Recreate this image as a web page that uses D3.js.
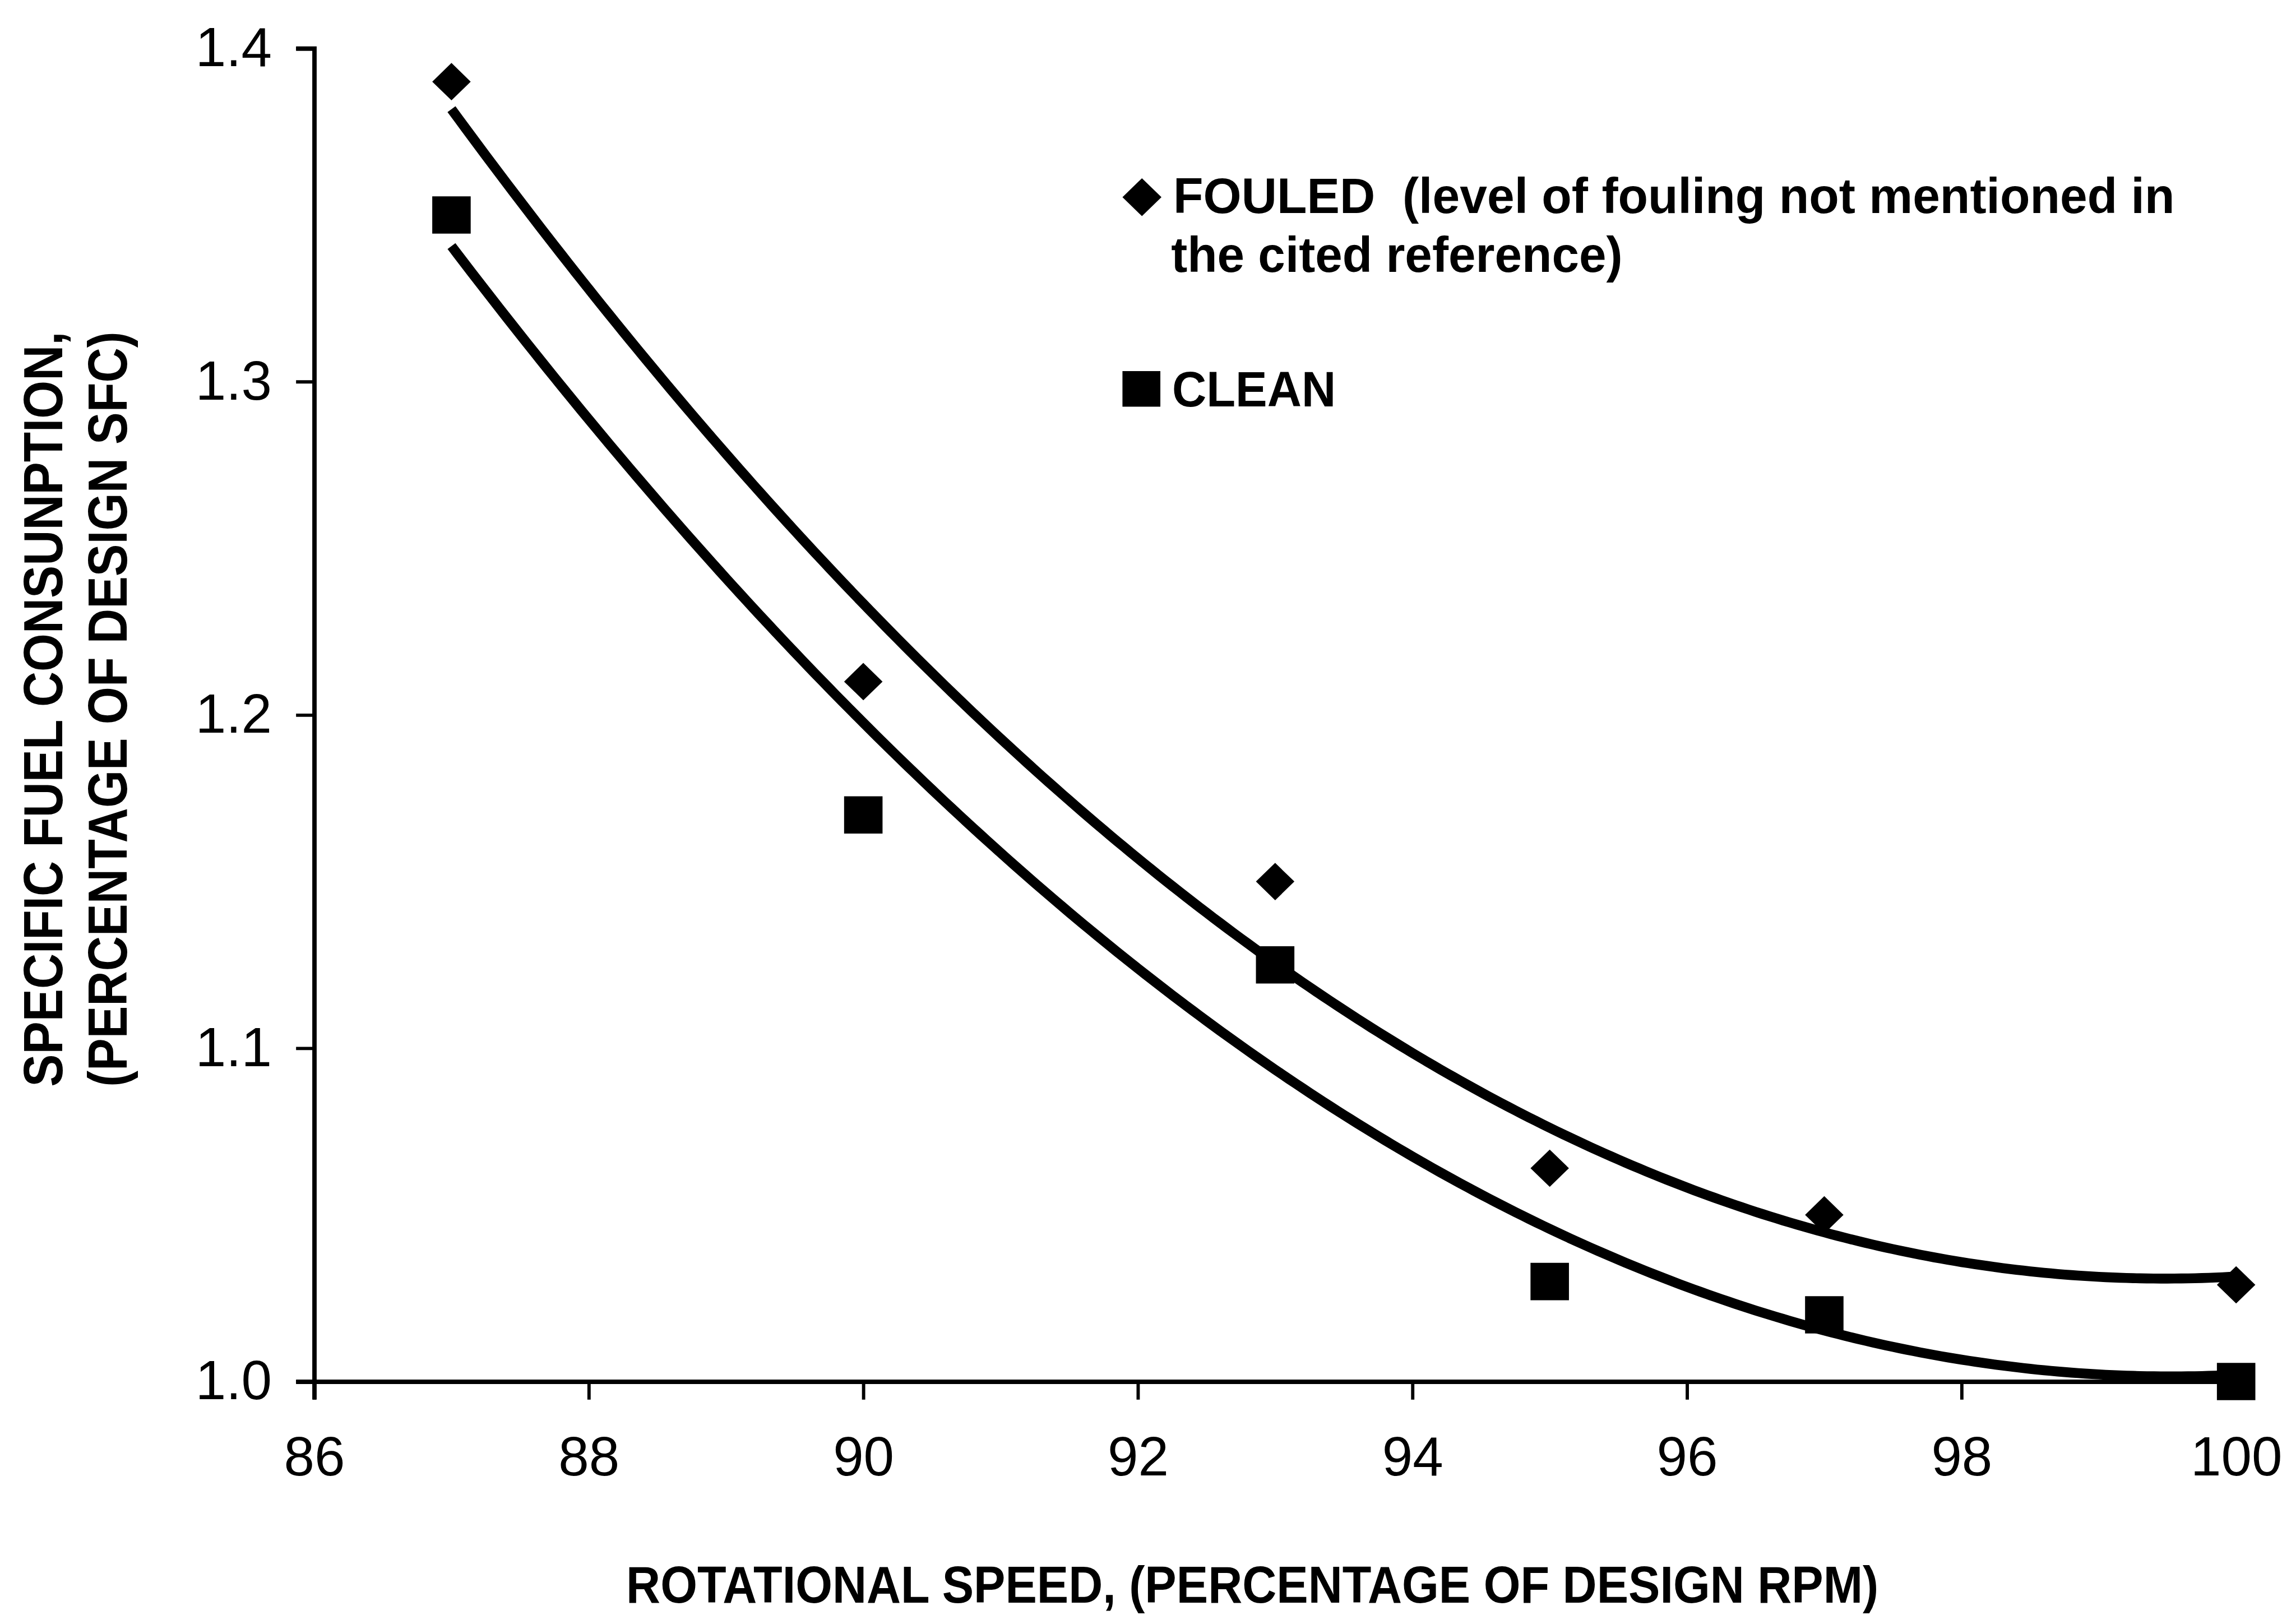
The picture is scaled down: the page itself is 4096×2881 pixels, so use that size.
<!DOCTYPE html>
<html>
<head>
<meta charset="utf-8">
<script src="https://cdn.jsdelivr.net/npm/d3@7"></script>
<style>
  html, body { margin: 0; padding: 0; background: #fff; }
  svg { display: block; }
  text { font-family: "Liberation Sans", Arial, Helvetica, sans-serif; fill: #000; }
</style>
</head>
<body>
<svg id="chart"></svg>
<script>
// data
const speed = [87, 90, 93, 95, 97, 100];
const fouled = [1.39, 1.21, 1.15, 1.064, 1.05, 1.029];
const clean = [1.35, 1.17, 1.125, 1.03, 1.02, 1.0];
const xTicks = [86, 88, 90, 92, 94, 96, 98, 100];
const yTicks = [1.0, 1.1, 1.2, 1.3, 1.4];

const W = 4096, H = 2881;
const K = W / 4180; // reference px -> page px

const svg = d3.select("#chart").attr("width", W).attr("height", H);
svg.append("rect").attr("width", W).attr("height", H).attr("fill", "#fff");

const x = d3.scaleLinear().domain([86, 100]).range([572 * K, 4071 * K]);
const y = d3.scaleLinear().domain([1.0, 1.4]).range([2515 * K, 88 * K]);

// axes
const xAxis = d3.axisBottom(x).tickValues(xTicks).tickFormat(d3.format("d"))
  .tickSizeOuter(0).tickSize(33 * K).tickPadding(67 * K);
const yAxis = d3.axisLeft(y).tickValues(yTicks).tickFormat(d3.format(".1f"))
  .tickSizeOuter(0).tickSize(33 * K).tickPadding(44 * K);

const gx = svg.append("g").attr("transform", `translate(0,${y(1.0)})`).call(xAxis);
const gy = svg.append("g").attr("transform", `translate(${x(86)},0)`).call(yAxis);

[gx, gy].forEach(g => {
  g.select(".domain").attr("stroke", "#000").attr("stroke-width", 8 * K);
  g.selectAll(".tick line").attr("stroke", "#000").attr("stroke-width", 6 * K);
  g.selectAll(".tick text")
    .attr("font-family", '"Liberation Sans", Arial, sans-serif')
    .attr("font-size", 100 * K)
    .attr("fill", "#000");
});

// second-order polynomial trendline (least squares, like the spreadsheet fit)
function polyFit2(xs, ys) {
  const m = d3.mean(xs);
  let s = [0, 0, 0, 0, 0], t = [0, 0, 0];
  xs.forEach((xv, i) => {
    const u = xv - m;
    for (let k = 0; k < 5; k++) s[k] += Math.pow(u, k);
    for (let k = 0; k < 3; k++) t[k] += ys[i] * Math.pow(u, k);
  });
  const A = [[s[0], s[1], s[2], t[0]], [s[1], s[2], s[3], t[1]], [s[2], s[3], s[4], t[2]]];
  for (let i = 0; i < 3; i++) {
    for (let j = i + 1; j < 3; j++) {
      const f = A[j][i] / A[i][i];
      for (let k = i; k < 4; k++) A[j][k] -= f * A[i][k];
    }
  }
  const c = [0, 0, 0];
  for (let i = 2; i >= 0; i--) {
    let v = A[i][3];
    for (let k = i + 1; k < 3; k++) v -= A[i][k] * c[k];
    c[i] = v / A[i][i];
  }
  return xv => c[0] + c[1] * (xv - m) + c[2] * (xv - m) * (xv - m);
}

const line = d3.line().x(d => x(d[0])).y(d => y(d[1]));
const xs = d3.range(87, 100.0001, 0.05);

[fouled, clean].forEach(series => {
  const f = polyFit2(speed, series);
  svg.append("path")
    .attr("d", line(xs.map(v => [v, f(v)])))
    .attr("fill", "none")
    .attr("stroke", "#000")
    .attr("stroke-width", 18 * K)
    .attr("stroke-linejoin", "round");
});

// marker shapes
function diamondType(w, h) {
  return { draw(ctx) {
    ctx.moveTo(0, -h / 2); ctx.lineTo(w / 2, 0); ctx.lineTo(0, h / 2); ctx.lineTo(-w / 2, 0); ctx.closePath();
  } };
}
function rectType(w, h) {
  return { draw(ctx) { ctx.rect(-w / 2, -h / 2, w, h); } };
}

const diamond = d3.symbol().type(diamondType(70 * K, 68 * K));
const square = d3.symbol().type(rectType(70 * K, 68 * K));

svg.append("g").selectAll("path")
  .data(speed.map((s, i) => [s, fouled[i]]))
  .join("path")
  .attr("transform", d => `translate(${x(d[0])},${y(d[1])})`)
  .attr("d", diamond)
  .attr("fill", "#000");

svg.append("g").selectAll("path")
  .data(speed.map((s, i) => [s, clean[i]]))
  .join("path")
  .attr("transform", d => `translate(${x(d[0])},${y(d[1])})`)
  .attr("d", square)
  .attr("fill", "#000");

// legend
const lg = svg.append("g");
lg.append("path").attr("transform", `translate(${2079 * K},${359 * K})`)
  .attr("d", d3.symbol().type(diamondType(71 * K, 69 * K))).attr("fill", "#000");
lg.append("path").attr("transform", `translate(${2078 * K},${708 * K})`)
  .attr("d", d3.symbol().type(rectType(69 * K, 65 * K))).attr("fill", "#000");

const legendLines = [
  { text: "FOULED  (level of fouling not mentioned in", x: 2136, y: 388, len: 1823 },
  { text: "the cited reference)", x: 2132, y: 495, len: 822 },
  { text: "CLEAN", x: 2134, y: 740, len: 298 }
];
lg.selectAll("text").data(legendLines).join("text")
  .attr("x", d => d.x * K)
  .attr("y", d => d.y * K)
  .attr("font-size", 91 * K)
  .attr("font-weight", "bold")
  .attr("textLength", d => d.len * K)
  .attr("lengthAdjust", "spacingAndGlyphs")
  .style("white-space", "pre")
  .text(d => d.text);

// axis titles
svg.append("text")
  .attr("x", 1140 * K)
  .attr("y", 2918 * K)
  .attr("font-size", 94 * K)
  .attr("font-weight", "bold")
  .attr("textLength", 2280 * K)
  .attr("lengthAdjust", "spacingAndGlyphs")
  .text("ROTATIONAL SPEED, (PERCENTAGE OF DESIGN RPM)");

const yTitle = [
  { text: "SPECIFIC FUEL CONSUNPTION,", bx: 113 },
  { text: "(PERCENTAGE OF DESIGN SFC)", bx: 231 }
];
svg.append("g").selectAll("text").data(yTitle).join("text")
  .attr("transform", d => `translate(${d.bx * K},${1291 * K}) rotate(-90)`)
  .attr("text-anchor", "middle")
  .attr("font-size", 100 * K)
  .attr("font-weight", "bold")
  .attr("textLength", 1375 * K)
  .attr("lengthAdjust", "spacingAndGlyphs")
  .text(d => d.text);
</script>
</body>
</html>
